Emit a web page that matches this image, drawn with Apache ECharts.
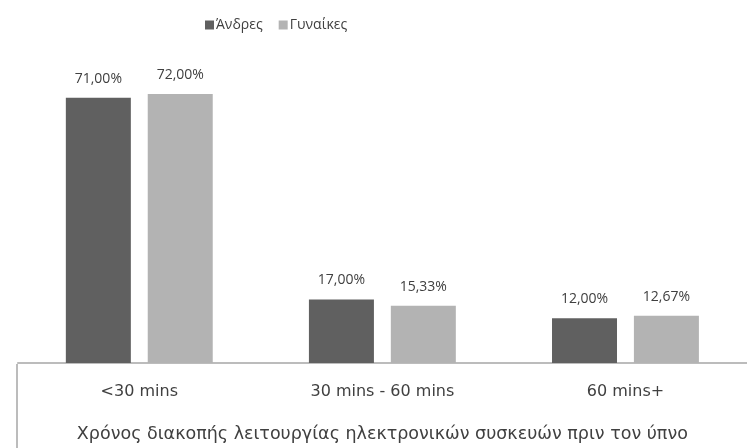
<!DOCTYPE html>
<html>
<head>
<meta charset="utf-8">
<script src="https://cdn.jsdelivr.net/npm/echarts@6/dist/echarts.min.js"></script>
<style>html,body{margin:0;padding:0;background:#fff;}#c{width:747px;height:448px;}</style>
</head>
<body>
<div id="c"></div>
<script>
var categories = ['<30 mins', '30 mins - 60 mins', '60 mins+'];
var seriesNames = ['Άνδρες', 'Γυναίκες'];
var men = [71.00, 17.00, 12.00];
var women = [72.00, 15.33, 12.67];
var axisTitle = 'Χρόνος διακοπής λειτουργίας ηλεκτρονικών συσκευών πριν τον ύπνο';

var font = '"Open Sans", "Noto Sans", sans-serif';
var wide = '"DejaVu Sans", sans-serif';
var txt = '#404040';
var chart = echarts.init(document.getElementById('c'));
function fmt(p){ return p.value.toFixed(2).replace('.', ',') + '%'; }
chart.setOption({
  animation: false,
  legend: {
    left: 200, top: 13,
    itemWidth: 9, itemHeight: 9, itemGap: 16,
    icon: 'rect',
    textStyle: { color: txt, fontSize: 14, fontFamily: font, padding: [0,0,0,-3] },
    data: seriesNames
  },
  grid: { left: 17.75, right: -7, top: 64, bottom: 84, containLabel: false },
  xAxis: {
    type: 'category',
    data: categories,
    axisLine: { lineStyle: { color: '#a6a6a6', width: 1.5 } },
    axisTick: { show: false },
    axisLabel: { color: txt, fontSize: 16, fontFamily: wide, margin: 21 },
    name: axisTitle,
    nameLocation: 'middle',
    nameGap: 62,
    nameTextStyle: { color: txt, fontSize: 17.5, fontFamily: wide }
  },
  yAxis: {
    type: 'value', min: 0, max: 80,
    show: false
  },
  series: [
    { name: seriesNames[0], type: 'bar', data: men, barWidth: 65, barGap: '26%',
      itemStyle: { color: '#606060' },
      label: { show: true, position: 'top', distance: 12, color: txt, fontSize: 14, fontFamily: font, formatter: fmt } },
    { name: seriesNames[1], type: 'bar', data: women, barWidth: 65,
      itemStyle: { color: '#b3b3b3' },
      label: { show: true, position: 'top', distance: 12, color: txt, fontSize: 14, fontFamily: font, formatter: fmt } }
  ],
  graphic: [
    { type: 'line', shape: { x1: 17, y1: 364, x2: 17, y2: 448 }, style: { stroke: '#a6a6a6', lineWidth: 1.5 } }
  ]
});
</script>
</body>
</html>
